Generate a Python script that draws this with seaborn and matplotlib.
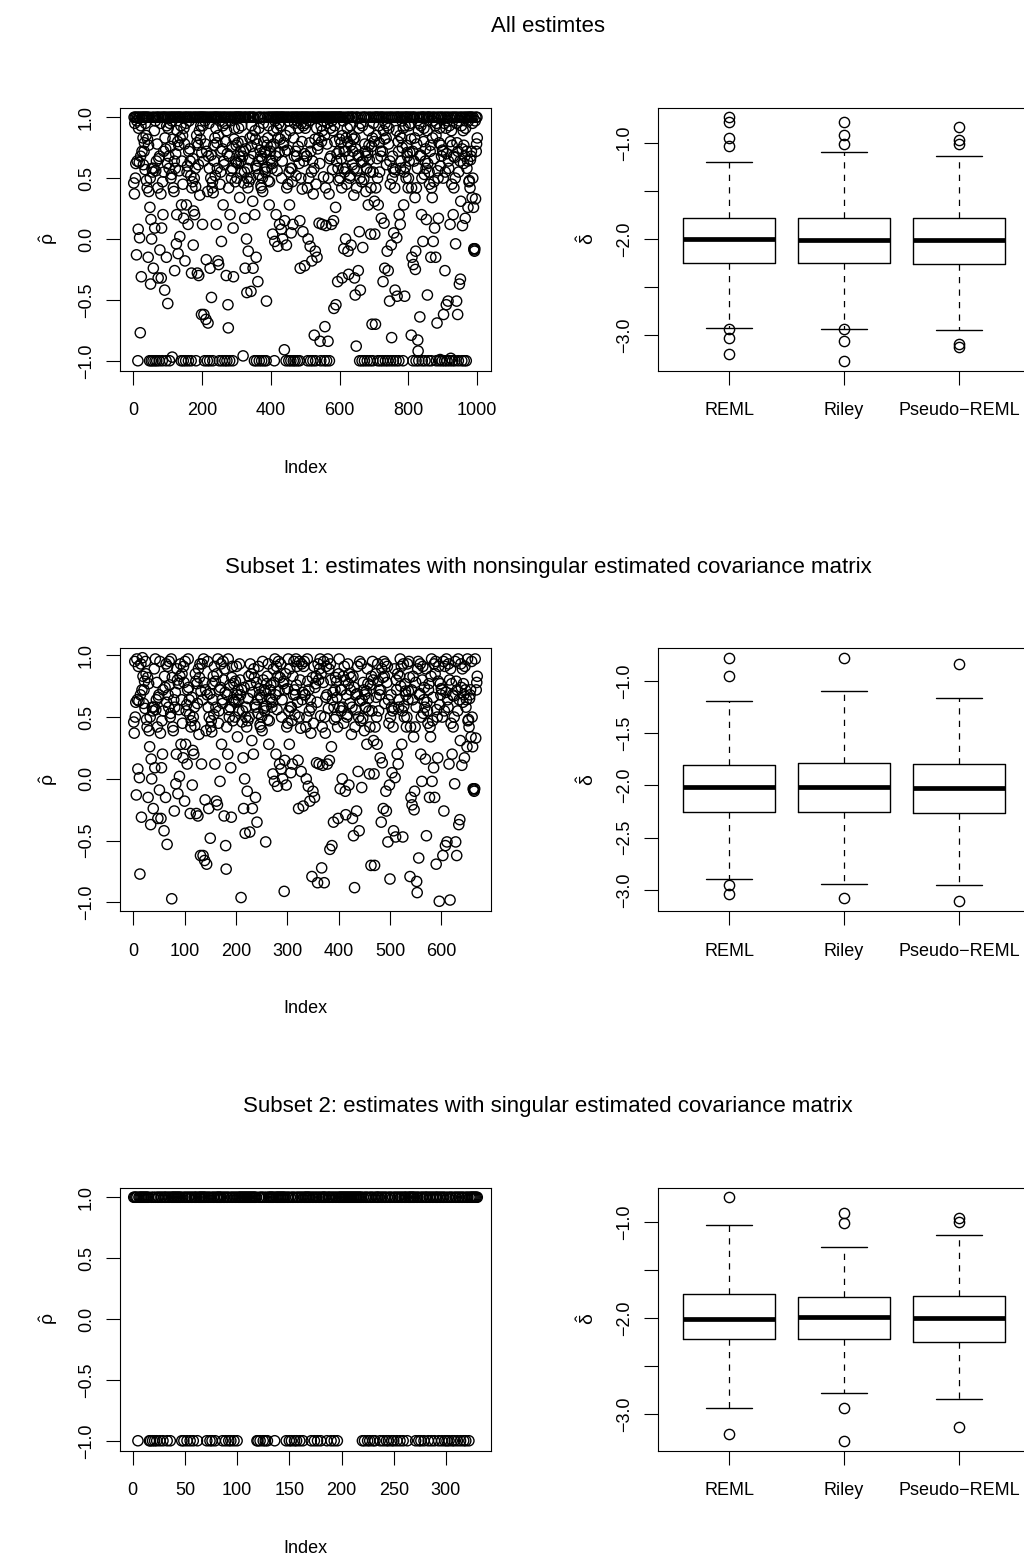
import numpy as np
import pandas as pd
import matplotlib
matplotlib.use("Agg")
import matplotlib.pyplot as plt
import seaborn as sns

# ---------------- data ----------------
# estimated correlation rho-hat for the 1000 simulated data sets, in index order
rho_hat_001_100 = [
    0.46, 1, 0.37, 0.95, 1, 0.50, 0.62, 1, -0.13, 0.97,
    0.64, 1, -1, 0.08, 0.91, 1, 0.63, 0.01, 1, -0.77,
    0.68, 0.93, -0.31, 1, 0.72, 0.98, 1, 0.83, 0.61, 1,
    0.72, 0.79, 1, 0.57, 0.95, 1, 0.85, 0.48, 1, 0.42,
    0.82, 1, -0.15, 0.77, 0.39, 1, -1, 0.26, 0.50, -0.37,
    0.16, -1, 0.00, 0.58, 1, 0.55, -1, -0.24, 0.58, 1,
    0.89, 0.09, -1, 0.97, 0.56, 1, 0.64, -1, 0.78, 1,
    0.42, -0.32, 1, 0.66, -1, 0.68, -0.09, 1, 0.95, 0.37,
    -0.32, 0.09, 1, -1, 0.47, 0.20, 1, 0.72, 0.55, 1,
    -0.42, 0.83, 1, 0.74, -1, -0.15, 0.93, 1, 0.62, -0.53]
rho_hat_101_200 = [
    0.91, 1, 0.68, 0.58, -1, 0.95, 1, 0.76, 0.50, 1,
    0.53, 0.97, -0.97, 1, 0.82, 0.42, 1, 0.39, 0.64, -0.26,
    1, 0.58, 0.70, 1, -0.04, 0.20, 0.89, 1, 0.80, -0.12,
    1, 0.77, 0.56, 1, 0.02, 0.83, 1, 0.93, -1, 0.28,
    0.64, 1, 0.85, 0.45, -1, 0.17, 0.91, 1, 0.78, -0.18,
    1, -1, 0.95, 0.28, 1, 0.55, 0.60, 1, 0.12, -1,
    0.72, 0.97, 1, 0.74, 0.64, 1, 0.52, -1, -0.28, 0.42,
    1, 0.47, 0.66, -0.05, 0.23, 1, 0.50, 0.20, 1, 0.58,
    0.43, -1, 1, 0.85, 0.79, -0.28, 1, 0.77, 0.61, -0.30,
    1, 0.89, 0.36, 1, 0.82, 0.93, 1, -0.62, 0.71, 1]
rho_hat_201_300 = [
    0.12, 0.93, 1, 0.64, -0.62, 1, -1, 0.97, 0.78, 1,
    -0.66, -0.17, 0.72, 1, -1, 0.39, -0.69, 0.68, 1, 0.95,
    0.58, -1, -0.24, 1, 0.50, 0.69, -0.48, 1, 0.42, 0.47,
    -1, 0.38, 1, 0.77, 0.64, 1, 0.83, 0.52, 1, 0.91,
    0.12, 1, 0.79, 0.58, 1, -0.18, 0.85, -0.21, 1, -1,
    0.97, 0.45, 1, 0.55, 0.72, -0.02, 1, -1, 0.74, 0.93,
    0.28, 1, 0.64, 0.61, 1, -1, 0.95, 0.80, 1, -0.30,
    0.89, -1, 0.70, 1, -0.54, -0.73, 0.42, 1, 0.68, -1,
    0.20, 0.97, 1, 0.56, 0.50, 1, 0.76, 0.58, -1, 0.09,
    -0.31, 1, 0.82, 0.91, 1, 0.47, 0.64, 1, 0.77, 0.63]
rho_hat_301_400 = [
    0.50, 1, 1, 0.79, 0.62, 0.91, 1, 0.68, 0.34, 1,
    0.72, 1, 0.64, 0.55, 0.93, 0.80, 1, 0.68, -0.96, 0.72,
    0.46, 1, 0.55, 0.17, -0.24, 1, 0.74, 1, 0.00, -0.44,
    0.50, 0.58, 0.42, -0.10, 1, 0.47, 1, 0.65, 0.83, 1,
    0.50, -0.43, 0.93, 0.76, 1, 0.85, 0.31, -0.24, 1, 0.70,
    1, -1, 0.20, 0.89, 0.82, 0.60, -0.15, -1, 0.58, 0.78,
    1, -0.35, 0.64, 0.53, 0.91, -1, 1, 0.73, 1, 0.68,
    0.44, 0.42, -1, 0.66, 0.50, 0.39, 1, 0.95, 0.80, -1,
    0.57, 0.72, 1, 0.55, 0.71, -1, -0.51, 0.59, 0.77, 1,
    0.83, 0.48, 0.93, 1, 0.28, 0.47, 0.65, 1, 0.72, 0.76]
rho_hat_401_500 = [
    0.64, 1, 0.58, 0.62, 0.04, 1, 0.89, 0.78, 1, -1,
    -0.02, 0.97, 1, 0.68, 0.20, 1, 0.91, 0.56, 1, -0.06,
    0.83, 1, 0.95, 0.71, 0.12, 1, 0.82, 0.93, 1, 0.08,
    0.50, 1, 0.64, 0.00, 1, 0.77, 0.79, 1, -0.91, 0.15,
    0.72, 1, 0.85, -1, -0.05, 0.42, 1, 0.73, 0.45, 1,
    0.97, -1, 0.55, 0.28, 1, 0.89, 0.58, -1, 0.05, 1,
    0.58, 0.47, 1, 0.12, -1, 0.83, 1, 0.68, 0.95, -1,
    1, 0.72, 0.52, 1, 0.68, 0.97, -1, 1, 0.76, 0.91,
    1, 0.62, -1, 0.15, -0.24, 1, 0.50, 0.95, 1, 0.80,
    0.41, 1, 0.06, 0.93, 1, 0.64, 0.70, -0.22, 1, 0.91]
rho_hat_501_600 = [
    0.95, 1, 0.68, 0.68, 1, 0.42, -1, 0.00, 1, 0.50,
    0.97, 1, 0.79, -0.06, -1, 0.72, 1, 0.55, -0.18, 1,
    0.64, -1, 0.37, 1, 0.58, -0.79, 1, 0.82, -0.10, -1,
    0.45, 1, 0.91, -0.15, 1, 0.74, 0.77, 1, 0.83, 0.13,
    1, 0.62, -0.84, 1, -1, 0.93, 0.80, 1, 0.12, 0.89,
    1, 0.97, 0.51, 1, -1, 0.85, -0.72, 1, 0.42, 0.11,
    1, -1, 0.78, 0.95, 1, -0.84, 0.50, 1, 0.37, -1,
    0.66, 1, 0.91, 0.68, 1, 0.12, 0.97, 1, 0.57, 0.89,
    1, 0.15, -0.57, 1, 0.93, 0.80, 1, 0.26, -0.54, 1,
    0.64, 0.70, 1, -0.35, 0.58, 1, 0.48, 0.72, 1, 0.82]
rho_hat_601_700 = [
    0.50, 1, 1, 0.79, 0.66, 0.42, -0.32, 0.85, 1, 0.97,
    0.58, -0.08, 0.72, 0.55, 1, 0.72, 0.00, 0.58, 0.83, 0.45,
    1, 0.91, 0.80, -0.10, 1, -0.29, 0.68, 1, 0.50, 0.52,
    0.93, 0.77, -0.05, 1, 0.85, 1, 0.61, 0.72, 1, 0.82,
    0.36, 0.58, -0.32, 0.83, -0.46, 1, 0.74, -0.88, 0.42, 0.56,
    1, 1, 0.68, -0.26, 0.69, 0.91, 0.06, -1, 0.50, -0.42,
    0.95, 1, 0.63, 0.47, -1, 0.93, -0.07, 0.64, 1, 0.49,
    1, -1, 0.78, 0.72, 1, 0.39, 0.68, 0.58, 0.58, -1,
    0.71, 1, 0.28, 0.89, 0.77, 0.65, 1, -1, 0.55, 0.04,
    0.42, 1, 0.76, -0.70, 0.83, -1, 0.55, 0.95, 1, 0.80]
rho_hat_701_800 = [
    0.31, 0.04, 1, -0.70, 0.42, 0.85, 1, 1, 0.66, 0.50,
    -1, 0.28, 1, 0.93, 0.79, 0.55, 1, -1, 0.72, 0.68,
    0.17, 1, 1, 0.72, -1, -0.35, 0.89, 1, 0.13, 0.82,
    -0.24, 0.95, -1, 1, 0.83, 0.61, 0.93, -0.10, 1, -1,
    -0.26, 0.78, 0.91, 1, -0.51, 0.64, 0.45, -1, 1, -0.05,
    -0.81, 1, 0.50, 0.68, 0.58, -1, 0.05, 1, 0.55, 0.42,
    -0.42, 0.57, 1, -1, 0.89, 0.01, -0.47, 1, 1, 0.80,
    0.72, -1, 0.20, 1, 0.85, 0.12, 0.58, 0.64, 1, 0.83,
    0.97, 0.75, 1, -1, 0.91, 0.28, 0.55, 1, -0.47, 0.93,
    0.59, 1, 0.50, 0.77, 1, 0.71, 0.68, 1, 0.42, 0.50]
rho_hat_801_900 = [
    0.93, 0.64, 1, 0.71, 0.95, 1, 0.82, -0.79, 0.42, -0.15,
    1, 0.72, -1, -0.21, 1, 0.64, 1, 0.83, 0.34, -0.25,
    -0.10, -1, 0.42, 0.78, 1, 0.58, -0.83, -0.92, 0.89, -1,
    0.95, 1, -0.64, 0.68, 0.69, 0.93, 1, 0.20, 0.50, -1,
    1, -0.02, 1, 0.80, 0.91, 0.53, 1, -1, 0.64, 0.74,
    0.58, 0.16, 1, 0.89, -0.46, 0.62, 1, -1, 1, 0.55,
    0.45, 1, 0.72, 0.77, -0.15, -1, 0.42, 1, 0.34, 0.83,
    0.97, -0.02, 1, 0.47, 0.66, 0.09, 1, 0.93, -0.15, 0.85,
    -1, 0.95, -0.69, 1, 0.56, 0.50, 0.17, 1, 0.79, -1,
    0.91, -0.99, 0.60, 1, 0.77, 0.68, 1, -1, 0.73, 0.72]
rho_hat_901_1000 = [
    0.50, -0.62, 1, 0.95, -1, -0.26, 0.55, 1, 0.91, -0.54,
    0.70, -1, 1, 0.97, -0.51, 0.64, 0.58, 1, 0.93, -1,
    0.12, 0.80, -0.98, 1, 0.89, 0.45, 0.77, -1, 1, 0.20,
    0.68, 0.42, 1, 0.67, -1, 0.50, -0.04, 1, 0.95, -0.51,
    0.79, 1, -0.62, 0.72, -1, 0.55, 0.97, -0.37, 1, 0.64,
    -0.33, 0.31, 1, 0.93, -1, 0.74, 0.11, 1, 0.89, 0.62,
    0.77, -1, 1, 0.68, 0.17, 0.91, 1, -1, 0.72, 0.58,
    1, 0.64, 0.26, 0.97, 1, 0.47, 0.48, 1, 0.42, 0.65,
    1, 0.68, 0.72, 1, 0.34, 0.95, 0.50, 1, 0.26, -0.08,
    -0.09, -0.10, -0.08, 0.97, 0.33, 1, 0.72, 0.78, 1, 0.83]

methods = ["REML", "Riley", "Pseudo\u2212REML"]

# delta-hat boxplot summaries: all estimates
delta_all_whislo = [-2.931, -2.934, -2.945]
delta_all_q1 = [-2.246, -2.246, -2.256]
delta_all_med = [-2.003, -2.007, -2.014]
delta_all_q3 = [-1.785, -1.779, -1.779]
delta_all_whishi = [-1.194, -1.097, -1.131]
delta_all_out = [[-0.730, -0.775, -0.948, -1.031, -2.940, -3.030, -3.200],
                 [-0.782, -0.913, -1.014, -2.940, -3.066, -3.270],
                 [-0.834, -0.972, -1.007, -3.090, -3.125]]
# subset 1 (nonsingular)
delta_s1_whislo = [-2.892, -2.946, -2.952]
delta_s1_q1 = [-2.257, -2.257, -2.260]
delta_s1_med = [-2.010, -2.016, -2.022]
delta_s1_q3 = [-1.803, -1.784, -1.790]
delta_s1_whishi = [-1.194, -1.098, -1.162]
delta_s1_out = [[-0.778, -0.956, -2.956, -3.041],
                [-0.778, -3.076],
                [-0.835, -3.108]]
# subset 2 (singular)
delta_s2_whislo = [-2.931, -2.782, -2.837]
delta_s2_q1 = [-2.221, -2.215, -2.246]
delta_s2_med = [-2.007, -1.986, -1.993]
delta_s2_q3 = [-1.744, -1.779, -1.768]
delta_s2_whishi = [-1.035, -1.263, -1.138]
delta_s2_out = [[-0.744, -3.204],
                [-0.907, -1.010, -2.931, -3.273],
                [-0.962, -0.997, -3.128]]

titles = ["All estimtes",
          "Subset 1: estimates with nonsingular estimated covariance matrix",
          "Subset 2: estimates with singular estimated covariance matrix"]
scatter_xticks = [[0, 200, 400, 600, 800, 1000],
                  [0, 100, 200, 300, 400, 500, 600],
                  [0, 50, 100, 150, 200, 250, 300]]

# ---------------- derived series ----------------
rho_all = np.array(rho_hat_001_100 + rho_hat_101_200 + rho_hat_201_300 +
                   rho_hat_301_400 + rho_hat_401_500 + rho_hat_501_600 +
                   rho_hat_601_700 + rho_hat_701_800 + rho_hat_801_900 +
                   rho_hat_901_1000, dtype=float)
singular = np.isclose(np.abs(rho_all), 1.0)
rho_series = [rho_all, rho_all[~singular], rho_all[singular]]

box_sets = [
    (delta_all_whislo, delta_all_q1, delta_all_med, delta_all_q3, delta_all_whishi, delta_all_out),
    (delta_s1_whislo, delta_s1_q1, delta_s1_med, delta_s1_q3, delta_s1_whishi, delta_s1_out),
    (delta_s2_whislo, delta_s2_q1, delta_s2_med, delta_s2_q3, delta_s2_whishi, delta_s2_out),
]
box_every_other_label = [True, False, True]

# ---------------- style ----------------
sns.set_theme(style="ticks")
plt.rcParams["font.family"] = ["Liberation Sans", "DejaVu Sans"]
plt.rcParams.update({
    "mathtext.fontset": "dejavusans",
    "mathtext.default": "regular",
    "axes.edgecolor": "black",
    "axes.linewidth": 0.8,
    "axes.labelcolor": "black",
    "text.color": "black",
    "xtick.color": "black",
    "ytick.color": "black",
    "xtick.major.size": 10,
    "ytick.major.size": 10,
    "xtick.major.width": 0.8,
    "ytick.major.width": 0.8,
    "xtick.labelsize": 13,
    "ytick.labelsize": 13,
    "axes.labelsize": 13,
    "figure.facecolor": "white",
    "axes.facecolor": "white",
})

W, H = 1024, 1556
fig = plt.figure(figsize=(W / 100, H / 100), dpi=100)

row_tops = [107.5, 648.0, 1187.5]
row_h = 263.0
sc_left, sc_w = 120.0, 371.0
bx_left, bx_w = 658.0, 372.0


def fmt(v):
    return f"{v:.1f}".replace("-", "\u2212")


def style_axes(ax):
    for s in ax.spines.values():
        s.set_visible(True)
        s.set_color("black")
        s.set_linewidth(0.8)
    ax.tick_params(axis="x", direction="out", pad=13)
    ax.tick_params(axis="y", direction="out", pad=8)
    for lab in ax.get_yticklabels():
        lab.set_rotation(90)
        lab.set_va("center")
        lab.set_ha("right")


for r in range(3):
    top = row_tops[r]
    bottom_frac = 1 - (top + row_h) / H
    h_frac = row_h / H

    # ---- scatter of rho-hat ----
    ax = fig.add_axes([sc_left / W, bottom_frac, sc_w / W, h_frac])
    vals = rho_series[r]
    n = len(vals)
    df = pd.DataFrame({"Index": np.arange(1, n + 1), "rho": vals})
    sns.scatterplot(data=df, x="Index", y="rho", ax=ax, s=54,
                    facecolor="none", edgecolor="black", linewidth=1.0,
                    legend=False)
    pad = 0.04 * (n - 1)
    ax.set_xlim(1 - pad, n + pad)
    lo, hi = vals.min(), vals.max()
    ax.set_ylim(lo - 0.04 * (hi - lo), hi + 0.04 * (hi - lo))
    ax.set_xticks(scatter_xticks[r])
    ax.set_xticklabels([str(t) for t in scatter_xticks[r]])
    yt = [-1.0, -0.5, 0.0, 0.5, 1.0]
    ax.set_yticks(yt)
    ax.set_yticklabels([fmt(v) for v in yt])
    ax.set_xlabel("Index", labelpad=29)
    ax.set_ylabel(r"$\hat{\rho}$", labelpad=13, fontsize=14)
    style_axes(ax)

    # ---- boxplots of delta-hat ----
    bx = fig.add_axes([bx_left / W, bottom_frac, bx_w / W, h_frac])
    wl, q1, md, q3, wh, outs = box_sets[r]
    stats = []
    for k in range(3):
        stats.append(dict(whislo=wl[k], q1=q1[k], med=md[k], q3=q3[k],
                          whishi=wh[k], fliers=np.array(outs[k]), label=methods[k]))
    bx.bxp(stats, positions=[1, 2, 3], widths=0.8, showfliers=True,
           boxprops=dict(color="black", linewidth=1.0),
           medianprops=dict(color="black", linewidth=3.4, solid_capstyle="butt"),
           whiskerprops=dict(color="black", linewidth=0.9, linestyle=(0, (5, 5))),
           capprops=dict(color="black", linewidth=1.0),
           flierprops=dict(marker="o", markerfacecolor="none", markeredgecolor="black",
                           markersize=7.4, markeredgewidth=1.0, linestyle="none"))
    allv = np.concatenate([wl, wh] + [np.array(o) for o in outs])
    lo, hi = allv.min(), allv.max()
    bx.set_ylim(lo - 0.04 * (hi - lo), hi + 0.04 * (hi - lo))
    bx.set_xlim(0.38, 3.62)
    bx.set_xticks([1, 2, 3])
    bx.set_xticklabels(methods)
    bt = [-1.0, -1.5, -2.0, -2.5, -3.0]
    bx.set_yticks(bt)
    if box_every_other_label[r]:
        bx.set_yticklabels([fmt(v) if float(v).is_integer() else "" for v in bt])
    else:
        bx.set_yticklabels([fmt(v) for v in bt])
    bx.set_xlabel("")
    bx.set_ylabel(r"$\hat{\delta}$", labelpad=13, fontsize=14)
    style_axes(bx)

    # ---- row title ----
    fig.text(548 / W, 1 - (top - 81) / H, titles[r], ha="center", va="center",
             fontsize=16)

fig.savefig("out.png", dpi=100, facecolor="white")
